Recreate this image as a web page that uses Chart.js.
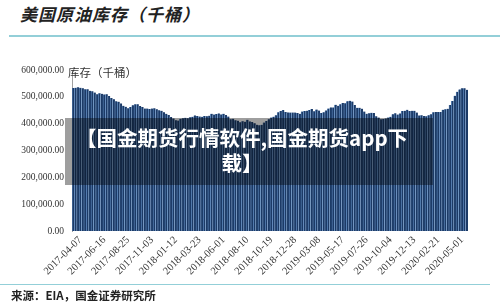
<!DOCTYPE html>
<html>
<head>
<meta charset="utf-8">
<script src="https://cdn.jsdelivr.net/npm/chart.js@4/dist/chart.umd.min.js"></script>
<style>
  html, body { margin: 0; padding: 0; background: #fff; }
  body { width: 500px; height: 308px; position: relative; overflow: hidden; font-family: "Noto Sans CJK SC", sans-serif; }
  #title { position: absolute; left: 20px; top: 1px; font-size: 17px; font-weight: 700; font-style: italic; color: #222; letter-spacing: 1px; }
  #topLine { position: absolute; left: 9px; right: 0; top: 35px; height: 2px; background: #93cfd8; }
  #unit { position: absolute; left: 68px; top: 64px; font-size: 11.5px; color: #333; }
  #wrap { position: absolute; left: 0; top: 55px; width: 500px; height: 230px; }
  #bottomLine { position: absolute; left: 0; width: 490px; top: 284px; height: 1px; background: #93cfd8; }
  #source { position: absolute; left: 11px; top: 287px; font-size: 11.5px; font-weight: 700; color: #222; }
  #mark { position: absolute; left: 65px; top: 118px; width: 368px; height: 67px; background: rgba(0,0,0,0.38);
          color: #fff; font-weight: 700; font-size: 20.5px; line-height: 25px; text-align: center; padding-top: 7px; box-sizing: border-box; padding-right: 14px; white-space: nowrap; }
</style>
</head>
<body>
<div id="title">美国原油库存（千桶）</div>
<div id="topLine"></div>
<div id="wrap"><canvas id="myChart"></canvas></div>
<div id="unit">库存（千桶）</div>
<div id="bottomLine"></div>
<div id="source">来源：EIA，国金证券研究所</div>
<div id="mark">【国金期货行情软件,国金期货app下<br>载】</div>
<script>
const weeks = [
  "2017-03-17","2017-03-24","2017-03-31","2017-04-07","2017-04-14","2017-04-21","2017-04-28","2017-05-05","2017-05-12","2017-05-19",
  "2017-05-26","2017-06-02","2017-06-09","2017-06-16","2017-06-23","2017-06-30","2017-07-07","2017-07-14","2017-07-21","2017-07-28",
  "2017-08-04","2017-08-11","2017-08-18","2017-08-25","2017-09-01","2017-09-08","2017-09-15","2017-09-22","2017-09-29","2017-10-06",
  "2017-10-13","2017-10-20","2017-10-27","2017-11-03","2017-11-10","2017-11-17","2017-11-24","2017-12-01","2017-12-08","2017-12-15",
  "2017-12-22","2017-12-29","2018-01-05","2018-01-12","2018-01-19","2018-01-26","2018-02-02","2018-02-09","2018-02-16","2018-02-23",
  "2018-03-02","2018-03-09","2018-03-16","2018-03-23","2018-03-30","2018-04-06","2018-04-13","2018-04-20","2018-04-27","2018-05-04",
  "2018-05-11","2018-05-18","2018-05-25","2018-06-01","2018-06-08","2018-06-15","2018-06-22","2018-06-29","2018-07-06","2018-07-13",
  "2018-07-20","2018-07-27","2018-08-03","2018-08-10","2018-08-17","2018-08-24","2018-08-31","2018-09-07","2018-09-14","2018-09-21",
  "2018-09-28","2018-10-05","2018-10-12","2018-10-19","2018-10-26","2018-11-02","2018-11-09","2018-11-16","2018-11-23","2018-11-30",
  "2018-12-07","2018-12-14","2018-12-21","2018-12-28","2019-01-04","2019-01-11","2019-01-18","2019-01-25","2019-02-01","2019-02-08",
  "2019-02-15","2019-02-22","2019-03-01","2019-03-08","2019-03-15","2019-03-22","2019-03-29","2019-04-05","2019-04-12","2019-04-19",
  "2019-04-26","2019-05-03","2019-05-10","2019-05-17","2019-05-24","2019-05-31","2019-06-07","2019-06-14","2019-06-21","2019-06-28",
  "2019-07-05","2019-07-12","2019-07-19","2019-07-26","2019-08-02","2019-08-09","2019-08-16","2019-08-23","2019-08-30","2019-09-06",
  "2019-09-13","2019-09-20","2019-09-27","2019-10-04","2019-10-11","2019-10-18","2019-10-25","2019-11-01","2019-11-08","2019-11-15",
  "2019-11-22","2019-11-29","2019-12-06","2019-12-13","2019-12-20","2019-12-27","2020-01-03","2020-01-10","2020-01-17","2020-01-24",
  "2020-01-31","2020-02-07","2020-02-14","2020-02-21","2020-02-28","2020-03-06","2020-03-13","2020-03-20","2020-03-27","2020-04-03",
  "2020-04-10","2020-04-17","2020-04-24","2020-05-01","2020-05-08","2020-05-15"
];

// 库存（千桶）
const stocks = [
  533100,534000,535500,533400,532300,528700,527800,522500,520800,516300,
  509900,513200,511500,509100,509200,502900,495400,490600,483400,481900,
  475400,466500,463200,457800,462400,468200,472800,472000,466000,462200,
  456500,456600,454900,456600,457300,453700,450300,448100,443000,436500,
  431900,424500,419500,412700,411600,418400,420300,422100,420400,423500,
  425900,430900,428300,426600,425400,428600,427600,429700,436500,434300,
  436000,438100,434500,436600,432400,426500,416600,417900,412800,411100,
  404900,408700,407400,414200,408400,405800,401500,396200,394100,396000,
  404000,410000,416400,422800,426000,431800,442100,446900,450500,443200,
  442000,441500,441400,441400,439700,437100,445000,447200,448500,450800,
  454500,445900,452900,449100,439500,442300,449500,456500,460600,460600,
  470600,466600,472000,476800,476500,483300,485500,482400,469600,459000,
  459000,455900,445000,436500,438900,440500,439800,427800,423000,416100,
  417100,419500,422600,425600,434900,438900,434200,438200,447100,448000,
  451700,447100,447900,447800,441300,430800,431100,428500,428100,431700,
  435000,442500,443300,443300,443300,451800,453700,455400,469200,484400,
  503600,518600,527600,532200,532000,526500
];

const tickLabels = [
  "2017-04-07","2017-06-16","2017-08-25","2017-11-03","2018-01-12","2018-03-23",
  "2018-06-01","2018-08-10","2018-10-19","2018-12-28","2019-03-08","2019-05-17",
  "2019-07-26","2019-10-04","2019-12-13","2020-02-21","2020-05-01"
];

const serif = "'Liberation Serif', 'DejaVu Serif', serif";

new Chart("myChart", {
  type: "bar",
  data: {
    labels: weeks,
    datasets: [{
      data: stocks,
      backgroundColor: "#1c3a66",
      borderColor: "#6f9dd3",
      borderWidth: {left: 0.7, right: 0, top: 0, bottom: 0},
      borderSkipped: false,
      barPercentage: 1,
      categoryPercentage: 1
    }]
  },
  options: {
    responsive: true,
    maintainAspectRatio: false,
    animation: false,
    layout: {padding: {left: 10, right: 32, top: 15, bottom: 0}},
    plugins: {legend: {display: false}, tooltip: {enabled: false}},
    scales: {
      x: {
        offset: true,
        grid: {display: false, drawTicks: false},
        border: {display: false},
        afterFit: s => { s.height = 54; },
        ticks: {
          autoSkip: false,
          minRotation: 45,
          maxRotation: 45,
          padding: 3,
          color: "#333",
          font: {family: serif, size: 10.5},
          callback: (v, i) => tickLabels.includes(weeks[i]) ? weeks[i] : null
        }
      },
      y: {
        min: 0,
        max: 600000,
        grid: {display: false, drawTicks: false},
        border: {display: true, color: "#a0a0a0", width: 1},
        afterFit: s => { s.width = 62; },
        ticks: {
          stepSize: 100000,
          padding: 8,
          color: "#333",
          font: {family: serif, size: 9.5},
          callback: v => v.toLocaleString("en-US", {minimumFractionDigits: 2, maximumFractionDigits: 2})
        }
      }
    }
  }
});
</script>
</body>
</html>
